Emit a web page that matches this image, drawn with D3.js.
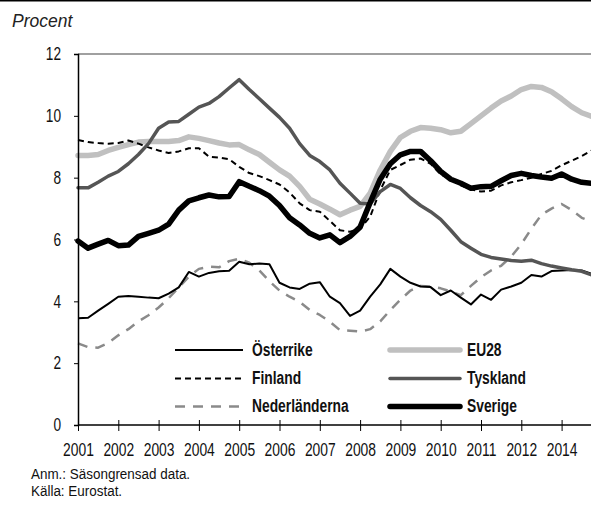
<!DOCTYPE html>
<html>
<head>
<meta charset="utf-8">
<script src="https://cdn.jsdelivr.net/npm/d3@7"></script>
<style>
  body{margin:0;background:#fff;}
  svg{display:block;}
  .narrow{font-family:"Liberation Sans",Arial,sans-serif;}
</style>
</head>
<body>
<svg></svg>
<script>
// 분기별 실업률 (2001Q1 ~ 2013Q4), 그림에서 읽은 값
let quarters = d3.range(52);
let year_ticks = [0,4,8,12,16,20,24,28,32,36,40,44,48];
let year_labels = ['2001','2002','2003','2004','2005','2006','2007','2008','2009','2010','2011','2012','2014'];
let y_ticks = [0,2,4,6,8,10,12];

let osterrike = [3.45,3.47,3.7,3.92,4.15,4.17,4.15,4.12,4.1,4.25,4.45,4.95,
  4.8,4.92,4.97,4.99,5.28,5.2,5.22,5.2,4.6,4.45,4.4,4.57,4.62,4.15,3.94,3.53,
  3.7,4.15,4.55,5.05,4.8,4.6,4.48,4.46,4.2,4.35,4.12,3.9,4.22,4.05,4.38,4.48,
  4.6,4.85,4.8,4.98,5.0,5.01,5.0,4.89];
let finland = [9.22,9.15,9.12,9.1,9.12,9.2,9.1,8.98,8.88,8.8,8.85,8.95,
  8.95,8.68,8.65,8.6,8.35,8.15,8.05,7.92,7.78,7.52,7.17,6.95,6.9,6.6,6.3,6.25,
  6.35,6.74,7.6,8.25,8.41,8.58,8.62,8.45,8.1,7.95,7.75,7.62,7.55,7.58,7.75,7.85,
  7.92,8.0,8.12,8.22,8.4,8.55,8.7,8.88];
let nederlanderna = [2.64,2.52,2.5,2.65,2.9,3.1,3.35,3.55,3.8,4.1,4.45,4.8,
  5.05,5.12,5.1,5.3,5.38,5.25,5.0,4.65,4.35,4.15,3.98,3.72,3.56,3.34,3.07,3.05,
  3.02,3.1,3.35,3.72,4.05,4.35,4.5,4.48,4.42,4.32,4.2,4.5,4.78,5.0,5.15,5.45,
  5.85,6.35,6.8,7.0,7.15,6.95,6.7,6.58];
let eu28 = [8.72,8.72,8.75,8.88,8.98,9.07,9.15,9.17,9.17,9.17,9.2,9.32,
  9.27,9.2,9.12,9.06,9.07,8.9,8.75,8.5,8.25,8.05,7.72,7.3,7.15,6.98,6.8,6.95,
  7.07,7.5,8.25,8.85,9.3,9.5,9.62,9.6,9.55,9.45,9.5,9.75,10.0,10.25,10.48,10.64,
  10.85,10.95,10.92,10.78,10.55,10.3,10.1,9.98];
let tyskland = [7.67,7.67,7.85,8.05,8.2,8.45,8.75,9.1,9.6,9.8,9.82,10.05,
  10.28,10.4,10.62,10.9,11.17,10.85,10.55,10.25,9.95,9.6,9.1,8.72,8.52,8.25,7.82,7.5,
  7.17,7.15,7.55,7.78,7.65,7.35,7.1,6.9,6.65,6.3,5.93,5.72,5.52,5.42,5.37,5.32,
  5.3,5.33,5.22,5.14,5.08,5.02,4.97,4.85];
let sverige = [5.95,5.72,5.85,5.97,5.8,5.82,6.1,6.2,6.3,6.5,6.95,7.25,
  7.35,7.44,7.38,7.39,7.87,7.72,7.58,7.4,7.1,6.7,6.47,6.2,6.05,6.15,5.9,6.1,
  6.4,7.2,7.95,8.45,8.74,8.85,8.85,8.55,8.2,7.95,7.82,7.66,7.71,7.72,7.9,8.07,
  8.14,8.07,8.02,7.98,8.12,7.95,7.85,7.82];

// 선 스타일 (그리는 순서 = 아래에서 위로)
let series = [
  {name:'EU28',         values:eu28,          color:'#c0c0c0', width:5.5, dash:null,  cap:'round'},
  {name:'Nederländerna',values:nederlanderna, color:'#8a8a8a', width:2.5, dash:'10,8',cap:'butt'},
  {name:'Finland',      values:finland,       color:'#000',    width:2,   dash:'6,4', cap:'butt'},
  {name:'Österrike',    values:osterrike,     color:'#000',    width:2,   dash:null,  cap:'butt'},
  {name:'Tyskland',     values:tyskland,      color:'#555',    width:3.5, dash:null,  cap:'round'},
  {name:'Sverige',      values:sverige,       color:'#000',    width:5.5, dash:null,  cap:'round'}
];
// 범례 배치 [이름, 열, 행]
let legend_layout = [
  ['Österrike',0,0],['Finland',0,1],['Nederländerna',0,2],
  ['EU28',1,0],['Tyskland',1,1],['Sverige',1,2]
];

let W = 591, H = 506;
let svg = d3.select('svg').attr('width',W).attr('height',H);

let x_scale = d3.scaleLinear().domain([0,4]).range([78,78+40.3]);
let y_scale = d3.scaleLinear().domain([0,12]).range([425,54]);

// 좁은 글꼴이 없으므로 anchor 기준으로 가로만 축소
function condense(sel,k){
  sel.each(function(){
    let x = +d3.select(this).attr('x') || 0;
    d3.select(this).attr('transform','translate('+x+',0) scale('+k+',1) translate('+(-x)+',0)');
  });
}

// 상단 구분선
svg.append('line').attr('x1',0).attr('x2',W).attr('y1',0.75).attr('y2',0.75)
  .attr('stroke','#000').attr('stroke-width',1.5);
svg.append('text').attr('x',12).attr('y',27)
  .style('font-family','"Liberation Sans",Arial,sans-serif').style('font-style','italic')
  .style('font-size','17.5px').attr('fill','#222').text('Procent');

// 플롯 상단 회색선
svg.append('line').attr('x1',78).attr('x2',W).attr('y1',y_scale(12)).attr('y2',y_scale(12))
  .attr('stroke','#808080').attr('stroke-width',1.5);

// 데이터 선
let plot = svg.append('g');
series.forEach(s=>{
  let line = d3.line().x((d,i)=>x_scale(quarters[i])).y(d=>y_scale(d));
  plot.append('path').datum(s.values)
    .attr('d',line).attr('fill','none')
    .attr('stroke',s.color).attr('stroke-width',s.width)
    .attr('stroke-dasharray',s.dash).attr('stroke-linecap',s.cap)
    .attr('stroke-linejoin','round');
});

// y 축
let y_axis = svg.append('g').attr('transform','translate(78,0)')
  .call(d3.axisLeft(y_scale).tickValues(y_ticks).tickSize(4).tickPadding(13));
y_axis.select('.domain').attr('stroke','#000').attr('stroke-width',1.5);
y_axis.selectAll('.tick line').attr('stroke','#000');
y_axis.selectAll('text').attr('class','narrow').style('font-size','18px').attr('fill','#111')
  .call(condense,0.76);

// x 축 (눈금은 축선을 가로지름)
let x_axis = svg.append('g').attr('transform','translate(0,425)')
  .call(d3.axisBottom(x_scale).tickValues(year_ticks).tickSize(6)
    .tickFormat((d,i)=>year_labels[i]).tickPadding(12));
x_axis.select('.domain').attr('d','M78,0H'+W).attr('stroke','#000').attr('stroke-width',1.5);
x_axis.selectAll('.tick line').attr('y1',-5).attr('y2',6).attr('stroke','#000');
x_axis.selectAll('text').attr('class','narrow').style('font-size','18px').attr('fill','#111')
  .call(condense,0.77);

// 범례
let leg_x = [[175,243,252],[390,460,467]];
let leg_y = [356,384.5,412.5];
legend_layout.forEach(l=>{
  let s = series.find(e=>e.name===l[0]);
  let c = leg_x[l[1]], y = leg_y[l[2]];
  svg.append('line').attr('x1',c[0]).attr('x2',c[1]).attr('y1',y-6).attr('y2',y-6)
    .attr('stroke',s.color).attr('stroke-width',s.width)
    .attr('stroke-dasharray',s.dash).attr('stroke-linecap',s.cap);
  svg.append('text').attr('class','narrow').attr('x',c[2]).attr('y',y)
    .style('font-size','17.5px').style('font-weight','bold').attr('fill','#111').text(l[0])
    .call(condense,0.79);
});

// 주석
svg.append('text').attr('class','narrow').attr('x',31).attr('y',479)
  .style('font-size','14px').attr('fill','#111').text('Anm.: Säsongrensad data.')
  .call(condense,0.96);
svg.append('text').attr('class','narrow').attr('x',31).attr('y',496)
  .style('font-size','14px').attr('fill','#111').text('Källa: Eurostat.')
  .call(condense,0.96);
</script>
</body>
</html>
